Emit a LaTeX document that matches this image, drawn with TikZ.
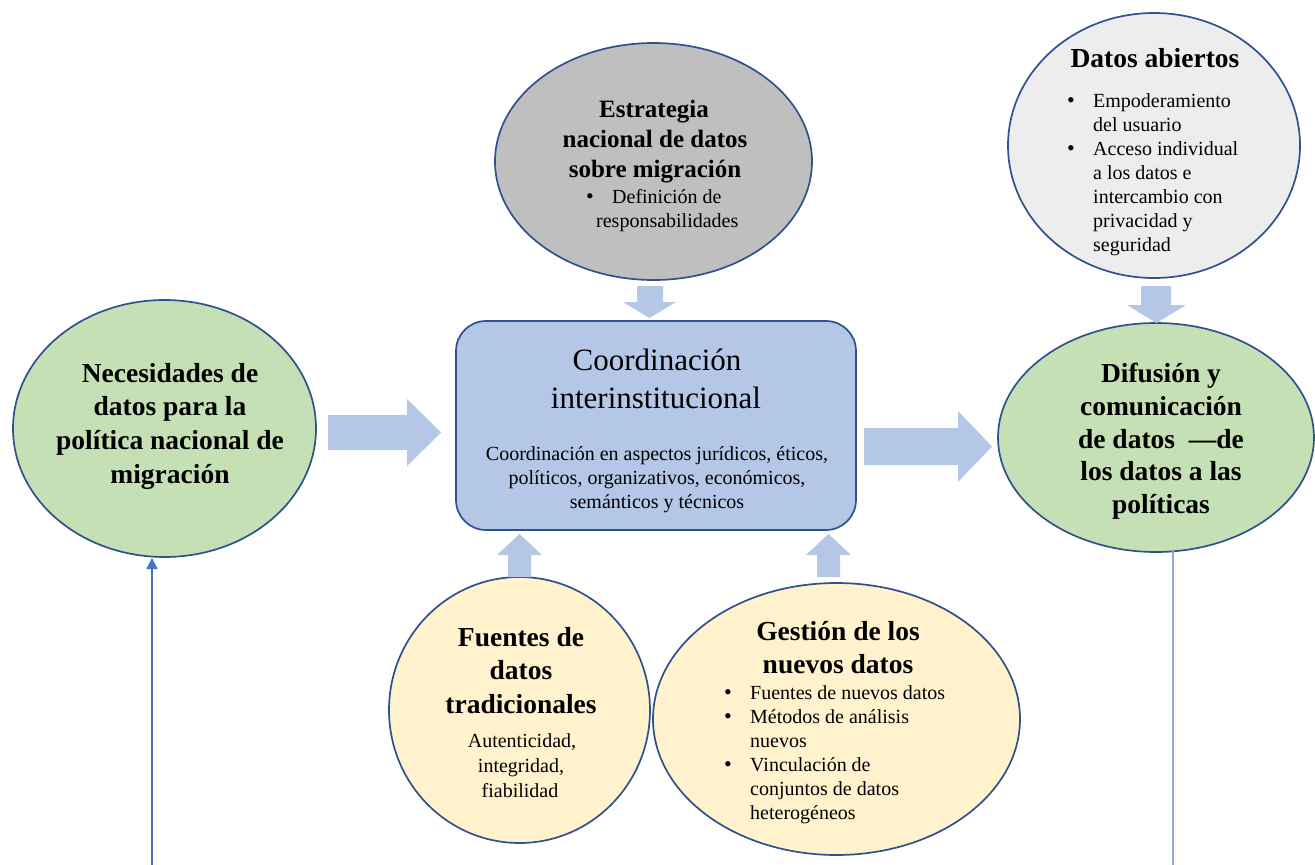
\documentclass[tikz,border=0pt]{standalone}
\usepackage{fontspec}
\setmainfont{Liberation Serif}
\usetikzlibrary{shapes.geometric,arrows.meta}
\definecolor{greenF}{HTML}{C5E0B4}
\definecolor{grayD}{HTML}{BFBFBF}
\definecolor{grayL}{HTML}{EDEDED}
\definecolor{yellowF}{HTML}{FFF2CC}
\definecolor{blueF}{HTML}{B4C7E7}
\definecolor{edgeC}{HTML}{2F528F}
\definecolor{arrC}{HTML}{B4C7E7}
\definecolor{thinA}{HTML}{4472C4}
\definecolor{thinB}{HTML}{8FAADC}
\begin{document}
\begin{tikzpicture}[x=1pt,y=-1pt,
  oval/.style={ellipse,draw=edgeC,line width=1.7pt,inner sep=0pt},
  boxc/.style={rectangle,rounded corners=30pt,draw=edgeC,line width=1.7pt,fill=blueF,inner sep=0pt},
  blk/.style={fill=arrC},
  ttl/.style={font=\fontsize{27.5}{33}\selectfont\bfseries,inner sep=0pt,anchor=base},
  ttlb/.style={font=\fontsize{25}{30}\selectfont\bfseries,inner sep=0pt,anchor=base},
  big/.style={font=\fontsize{31}{37}\selectfont,inner sep=0pt,anchor=base},
  bod/.style={font=\fontsize{20}{24}\selectfont,inner sep=0pt,anchor=base},
  bodl/.style={font=\fontsize{20}{24}\selectfont,inner sep=0pt,anchor=base west},
  bul/.style={font=\fontsize{22}{24}\selectfont,inner sep=0pt,anchor=base}]
\useasboundingbox (0,0) rectangle (1315,865);

% shapes
\node[oval,fill=greenF,minimum width=303pt,minimum height=257pt] (nec) at (164.5,428.5) {};
\node[oval,fill=grayD,minimum width=317pt,minimum height=237pt] (est) at (653.5,161.5) {};
\node[oval,fill=grayL,minimum width=292pt,minimum height=265pt] (dab) at (1154,145.5) {};
\node[oval,fill=greenF,minimum width=316pt,minimum height=229pt] (dif) at (1156,437.5) {};
\node[oval,fill=yellowF,minimum width=261pt,minimum height=266pt] (fue) at (519.5,710) {};
\node[oval,fill=yellowF,minimum width=367pt,minimum height=272pt] (ges) at (836.5,719) {};
\node[boxc,minimum width=400pt,minimum height=209pt] (coo) at (656,425.5) {};

% block arrows
\fill[blk] (328,415) -- (407,415) -- (407,399) -- (441,432.5) -- (407,466) -- (407,450) -- (328,450) -- cycle;
\fill[blk] (864,428) -- (958,428) -- (958,411) -- (992,446.5) -- (958,482) -- (958,465) -- (864,465) -- cycle;
\fill[blk] (637,286) -- (663,286) -- (663,302) -- (676,302) -- (649.5,318) -- (623,302) -- (637,302) -- cycle;
\fill[blk] (1141,286) -- (1171,286) -- (1171,305) -- (1186,305) -- (1156.5,323) -- (1127,305) -- (1141,305) -- cycle;
\fill[blk] (508,577) -- (531,577) -- (531,555) -- (542,555) -- (519.5,534) -- (497,555) -- (508,555) -- cycle;
\fill[blk] (817,577) -- (840,577) -- (840,555) -- (851,555) -- (828.5,534) -- (806,555) -- (817,555) -- cycle;

% thin connectors
\coordinate (la) at (152,865);
\coordinate (lt) at (152,558);
\draw[thinA,line width=1.3pt,-{Triangle[width=11pt,length=11pt]}] (la) -- (lt);
\coordinate (rt) at (1173,551);
\coordinate (rb) at (1173,865);
\draw[thinB,line width=1.3pt] (rt) -- (rb);

% Necesidades
\node[ttl] (n1) at (170,382) {Necesidades de};
\node[ttl] (n2) at (170,415) {datos para la};
\node[ttl] (n3) at (170,449) {política nacional de};
\node[ttl] (n4) at (170,483) {migración};

% Estrategia
\node[ttlb] (e1) at (654,117) {Estrategia};
\node[ttlb] (e2) at (655,147) {nacional de datos};
\node[ttlb] (e3) at (655,177) {sobre migración};
\node[bul] (e4) at (590,203) {•};
\node[bodl] (e5) at (612,203) {Definición de};
\node[bodl] (e6) at (596,227) {responsabilidades};

% Datos abiertos
\node[ttl] (d1) at (1155,67) {Datos abiertos};
\node[bul] (d2) at (1071,107) {•};
\node[bodl] (d3) at (1093,107) {Empoderamiento};
\node[bodl] (d4) at (1093,131) {del usuario};
\node[bul] (d5) at (1071,155) {•};
\node[bodl] (d6) at (1093,155) {Acceso individual};
\node[bodl] (d7) at (1093,179) {a los datos e};
\node[bodl] (d8) at (1093,203) {intercambio con};
\node[bodl] (d9) at (1093,227) {privacidad y};
\node[bodl] (d10) at (1093,251) {seguridad};

% Coordinacion
\node[big] (c1) at (657,370) {Coordinación};
\node[big] (c2) at (656,408) {interinstitucional};
\node[bod] (c3) at (657,460) {Coordinación en aspectos jurídicos, éticos,};
\node[bod] (c4) at (657,484) {políticos, organizativos, económicos,};
\node[bod] (c5) at (657,508) {semánticos y técnicos};

% Difusion
\node[ttl] (f1) at (1161,382) {Difusión y};
\node[ttl] (f2) at (1161,415) {comunicación};
\node[ttl] (f3) at (1161,448) {de datos\ \ —de};
\node[ttl] (f4) at (1161,480) {los datos a las};
\node[ttl] (f5) at (1161,513) {políticas};

% Fuentes
\node[ttl] (t1) at (521,646) {Fuentes de};
\node[ttl] (t2) at (521,679) {datos};
\node[ttl] (t3) at (521,713) {tradicionales};
\node[bod] (t4) at (522,747) {Autenticidad,};
\node[bod] (t5) at (521,772) {integridad,};
\node[bod] (t6) at (520,797) {fiabilidad};

% Gestion
\node[ttl] (g1) at (838,640) {Gestión de los};
\node[ttl] (g2) at (838,673) {nuevos datos};
\node[bul] (g3) at (728,699) {•};
\node[bodl] (g4) at (750,699) {Fuentes de nuevos datos};
\node[bul] (g5) at (728,723) {•};
\node[bodl] (g6) at (750,723) {Métodos de análisis};
\node[bodl] (g7) at (750,747) {nuevos};
\node[bul] (g8) at (728,771) {•};
\node[bodl] (g9) at (750,771) {Vinculación de};
\node[bodl] (g10) at (750,795) {conjuntos de datos};
\node[bodl] (g11) at (750,819) {heterogéneos};
\end{tikzpicture}
\end{document}
